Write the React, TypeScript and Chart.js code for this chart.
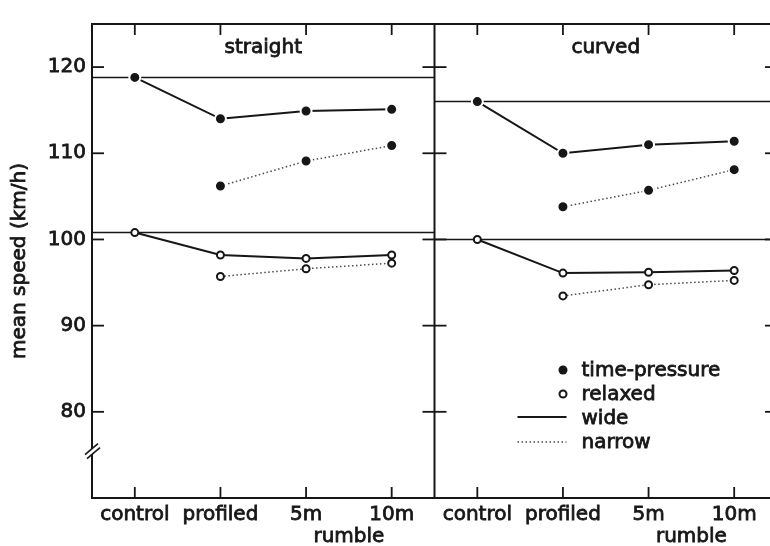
import React, { useEffect, useRef } from 'react';
import { Chart, registerables } from 'chart.js';

Chart.register(...registerables);

const FONT = '"DejaVu Sans", "Liberation Sans", sans-serif';
const INK = '#161616';
const TEXT_STROKE = 0.8;

const CATEGORIES = ['control', 'profiled', '5m', '10m'];
const PANELS = ['straight', 'curved'];
const GROUP_LABEL = 'rumble';
const Y_TICKS = [80, 90, 100, 110, 120];
const Y_MIN = 70;
const Y_MAX = 125;
const BREAK_AT = 75.5;
const Y_TITLE = 'mean speed (km/h)';
const LEGEND_LABELS = ['time-pressure', 'relaxed', 'wide', 'narrow'];

// values per category: control, profiled, 5m, 10m (null = not measured)
const STRAIGHT_TP_WIDE = [118.8, 114.0, 114.9, 115.1];
const STRAIGHT_TP_NARROW = [null, 106.2, 109.1, 110.9];
const STRAIGHT_RX_WIDE = [100.8, 98.2, 97.8, 98.2];
const STRAIGHT_RX_NARROW = [null, 95.7, 96.6, 97.25];
const CURVED_TP_WIDE = [116.0, 110.0, 111.0, 111.4];
const CURVED_TP_NARROW = [null, 103.8, 105.7, 108.1];
const CURVED_RX_WIDE = [100.0, 96.1, 96.2, 96.4];
const CURVED_RX_NARROW = [null, 93.45, 94.75, 95.25];

const PANEL_SERIES = [
  { tpWide: STRAIGHT_TP_WIDE, tpNarrow: STRAIGHT_TP_NARROW, rxWide: STRAIGHT_RX_WIDE, rxNarrow: STRAIGHT_RX_NARROW },
  { tpWide: CURVED_TP_WIDE, tpNarrow: CURVED_TP_NARROW, rxWide: CURVED_RX_WIDE, rxNarrow: CURVED_RX_NARROW },
];

const N = CATEGORIES.length;

function toPoints(values: (number | null)[], panel: number) {
  return values
    .map((v, i) => (v == null ? null : { x: panel * N + i, y: v }))
    .filter((p) => p !== null) as { x: number; y: number }[];
}

const SOLID = { borderColor: INK, borderWidth: 2, borderDash: [] as number[] };
const DOTTED = { borderColor: '#4a4a4a', borderWidth: 1.5, borderDash: [1.5, 2.5] };
const FILLED = { pointRadius: 5.5, pointBorderWidth: 2, pointBackgroundColor: INK, pointBorderColor: '#ffffff' };
const OPEN = { pointRadius: 3.5, pointBorderWidth: 2, pointBackgroundColor: '#ffffff', pointBorderColor: INK };

function buildDatasets() {
  const ds: any[] = [];
  PANEL_SERIES.forEach((s, p) => {
    // reference lines at control level across the whole panel
    [s.tpWide[0], s.rxWide[0]].forEach((v) => {
      ds.push({
        data: [{ x: p * N - 0.5, y: v }, { x: p * N + N - 0.5, y: v }],
        borderColor: INK, borderWidth: 1.6, pointRadius: 0, order: 10,
      });
    });
    ds.push({ data: toPoints(s.tpWide, p), ...SOLID, ...FILLED, order: 1 });
    ds.push({ data: toPoints(s.tpNarrow, p), ...DOTTED, ...FILLED, order: 1 });
    ds.push({ data: toPoints(s.rxWide, p), ...SOLID, ...OPEN, order: 1 });
    ds.push({ data: toPoints(s.rxNarrow, p), ...DOTTED, ...OPEN, order: 1 });
  });
  return ds;
}

function heavyText(ctx: CanvasRenderingContext2D, t: string, x: number, y: number) {
  ctx.lineWidth = TEXT_STROKE;
  ctx.strokeText(t, x, y);
  ctx.fillText(t, x, y);
}

const framePlugin = {
  id: 'frameDecor',
  afterDatasetsDraw(chart: any) {
    const { ctx, chartArea: a, scales } = chart;
    const xs = scales.x;
    const ys = scales.y;
    const line = (x1: number, y1: number, x2: number, y2: number) => {
      ctx.beginPath();
      ctx.moveTo(x1, y1);
      ctx.lineTo(x2, y2);
      ctx.stroke();
    };
    ctx.save();
    ctx.strokeStyle = INK;
    ctx.lineWidth = 2;
    ctx.strokeRect(a.left, a.top, a.right - a.left, a.bottom - a.top);
    const xDiv = xs.getPixelForValue(N - 0.5);
    line(xDiv, a.top, xDiv, a.bottom);

    ctx.lineWidth = 1.8;
    for (let i = 0; i < N * PANELS.length; i++) {
      const px = xs.getPixelForValue(i);
      line(px, a.top, px, a.top + 11);
      line(px, a.bottom - 11, px, a.bottom);
    }
    for (const v of Y_TICKS) {
      const py = ys.getPixelForValue(v);
      line(a.left, py, a.left + 12, py);
      line(xDiv - 12, py, xDiv + 12, py);
      line(a.right - 12, py, a.right, py);
    }

    // axis break
    const yb = ys.getPixelForValue(BREAK_AT);
    const L = a.left;
    ctx.fillStyle = '#ffffff';
    ctx.beginPath();
    ctx.moveTo(L - 7, yb + 4);
    ctx.lineTo(L + 6, yb - 7);
    ctx.lineTo(L + 8, yb - 3);
    ctx.lineTo(L - 5, yb + 8);
    ctx.closePath();
    ctx.fill();
    ctx.lineWidth = 1.6;
    line(L - 7, yb + 4, L + 6, yb - 7);
    line(L - 5, yb + 8, L + 8, yb - 3);

    // text
    ctx.fillStyle = INK;
    ctx.strokeStyle = INK;
    ctx.font = `20px ${FONT}`;
    ctx.textAlign = 'center';
    ctx.textBaseline = 'alphabetic';
    PANELS.forEach((name, p) => {
      heavyText(ctx, name, xs.getPixelForValue(p * N + 1.5), a.top + 29);
      heavyText(ctx, GROUP_LABEL, xs.getPixelForValue(p * N + 2.5), a.bottom + 44);
    });

    // y-axis title
    ctx.save();
    ctx.translate(20, (a.top + a.bottom) / 2);
    ctx.rotate(-Math.PI / 2);
    ctx.textBaseline = 'middle';
    heavyText(ctx, Y_TITLE, 0, 0);
    ctx.restore();

    // legend
    const lx = xDiv;
    const rows = [a.top + 352, a.top + 376, a.top + 400, a.top + 424];
    ctx.textAlign = 'left';
    LEGEND_LABELS.forEach((t, i) => heavyText(ctx, t, lx + 147, rows[i]));
    ctx.fillStyle = INK;
    ctx.beginPath();
    ctx.arc(lx + 128.5, rows[0] - 6, 4.5, 0, Math.PI * 2);
    ctx.fill();
    ctx.lineWidth = 2;
    ctx.beginPath();
    ctx.arc(lx + 128.5, rows[1] - 6, 3.5, 0, Math.PI * 2);
    ctx.stroke();
    ctx.lineWidth = 2;
    line(lx + 83, rows[2] - 7, lx + 132, rows[2] - 7);
    ctx.strokeStyle = '#4a4a4a';
    ctx.lineWidth = 1.5;
    ctx.setLineDash([1.5, 2.5]);
    line(lx + 83, rows[3] - 6, lx + 132, rows[3] - 6);
    ctx.setLineDash([]);
    ctx.restore();
  },
};

export default function App() {
  const ref = useRef<HTMLCanvasElement | null>(null);
  useEffect(() => {
    if (!ref.current) return;
    Chart.defaults.font.family = FONT;
    Chart.defaults.color = INK;
    const chart = new Chart(ref.current, {
      type: 'line',
      data: { datasets: buildDatasets() },
      plugins: [framePlugin],
      options: {
        responsive: false,
        animation: false,
        devicePixelRatio: 1,
        layout: { padding: { top: 24, right: 23, left: 0, bottom: 0 } },
        plugins: { legend: { display: false }, tooltip: { enabled: false } },
        elements: { line: { tension: 0 } },
        scales: {
          x: {
            type: 'linear',
            min: -0.5,
            max: N * PANELS.length - 0.5,
            afterBuildTicks: (s: any) => {
              s.ticks = Array.from({ length: N * PANELS.length }, (_, i) => ({ value: i }));
            },
            afterFit: (s: any) => { s.height = 48; },
            grid: { display: false, drawTicks: false },
            border: { display: false },
            ticks: {
              autoSkip: false,
              maxRotation: 0,
              padding: 5,
              font: { size: 20 },
              color: INK,
              textStrokeColor: INK,
              textStrokeWidth: TEXT_STROKE,
              callback: (v: any) => CATEGORIES[Math.round(Number(v)) % N],
            },
          },
          y: {
            type: 'linear',
            min: Y_MIN,
            max: Y_MAX,
            afterBuildTicks: (s: any) => { s.ticks = Y_TICKS.map((v) => ({ value: v })); },
            afterFit: (s: any) => { s.width = 92; },
            grid: { display: false, drawTicks: false },
            border: { display: false },
            ticks: { padding: 6, font: { size: 20 }, color: INK, textStrokeColor: INK, textStrokeWidth: TEXT_STROKE },
          },
        },
      },
    });
    return () => chart.destroy();
  }, []);
  return (
    <div style={{ position: 'absolute', left: 0, top: 0, width: 770, height: 546, overflow: 'hidden', background: '#ffffff' }}>
      <canvas ref={ref} width={800} height={546} style={{ display: 'block', width: 800, height: 546 }} />
    </div>
  );
}
